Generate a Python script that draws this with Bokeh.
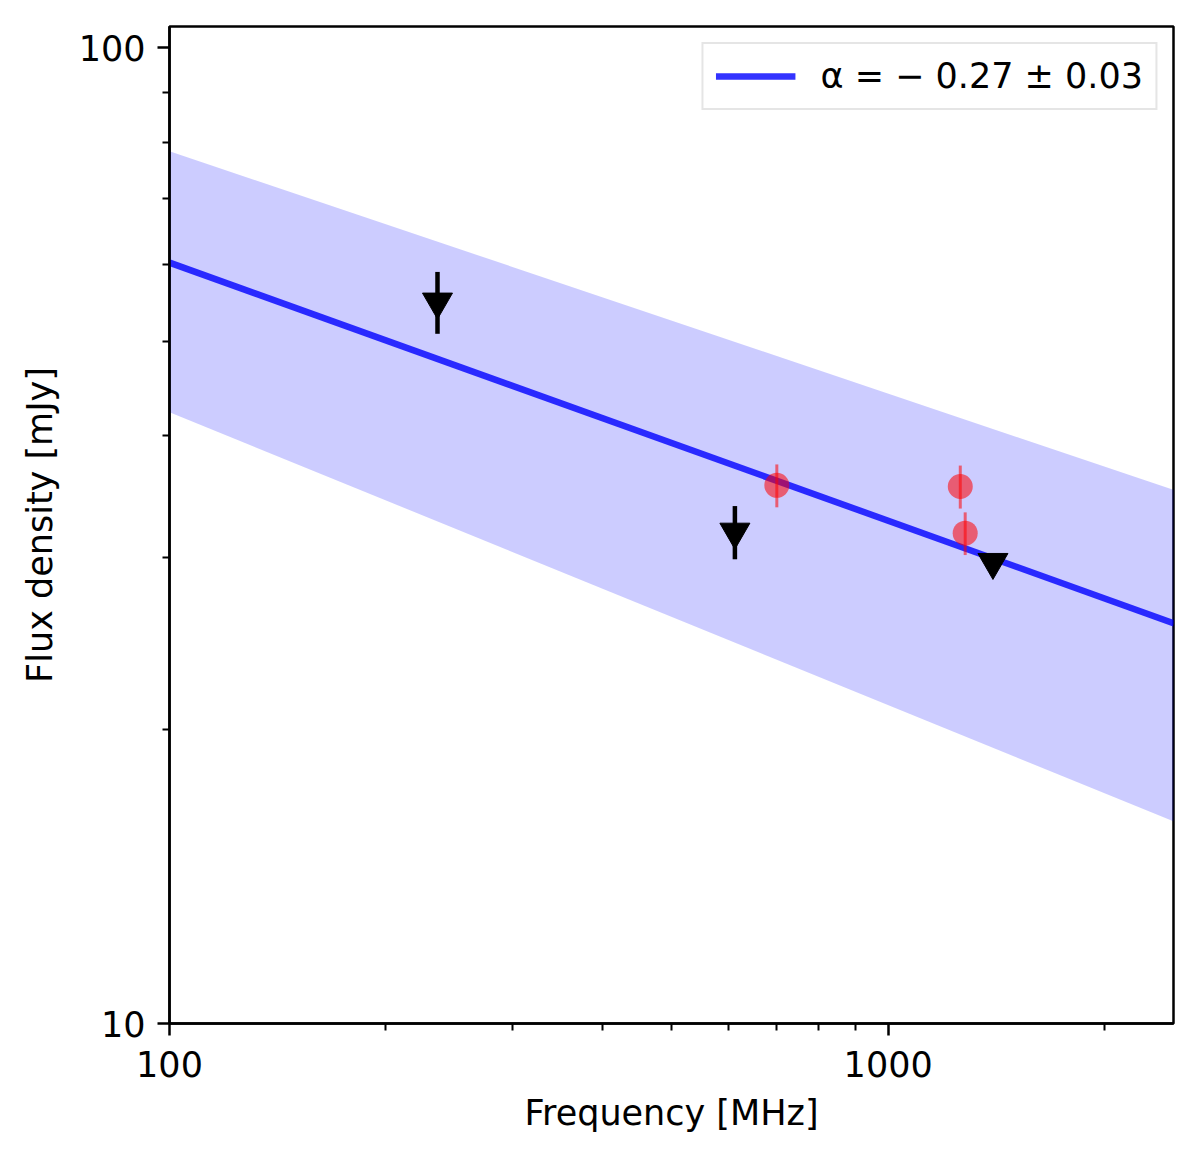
import numpy as np
from bokeh.plotting import figure
from bokeh.models import (Range1d, FixedTicker, CustomJSTickFormatter, Legend, LegendItem,
                          ColumnDataSource)
from bokeh.embed import file_html
from bokeh.resources import INLINE

# ---- data ----
# upper limits (triangles) with error bars
lim_freq = [236, 612, 1399]
lim_flux = [54.9, 31.9, 29.7]
lim_err = [4.0, 2.0, 0.0]

# detections (red circles)
det_freq = [700, 1260, 1280]
det_flux = [35.6, 35.5, 31.8]
det_err = [1.8, 1.8, 1.6]

# power-law fit and its uncertainty band (end points, straight in log-log)
fit_freq = [100, 2500]
fit_flux = [60.2, 25.7]
band_upper = [78.3, 35.2]
band_lower = [42.3, 16.1]

legend_label = "α = − 0.27 ± 0.03"

x_major = [100, 1000]
x_minor = [200, 300, 400, 500, 600, 700, 800, 900, 2000]
y_major = [10, 100]
y_minor = [20, 30, 40, 50, 60, 70, 80, 90]

FONT = "DejaVu Sans"
FS = "35px"

p = figure(width=1184, height=1143, x_axis_type="log", y_axis_type="log",
           x_range=Range1d(100, 2495), y_range=Range1d(10, 105.1),
           output_backend="svg", toolbar_location=None,
           min_border_left=169, min_border_right=11, min_border_top=26, min_border_bottom=120)

p.xgrid.visible = False
p.ygrid.visible = False
p.outline_line_color = "black"
p.outline_line_width = 2.5
p.outline_line_alpha = 1.0

# band
band_src = ColumnDataSource(dict(x=fit_freq, y1=band_lower, y2=band_upper))
p.varea(x="x", y1="y1", y2="y2", source=band_src, fill_color="blue", fill_alpha=0.2)

# fit line
fit_r = p.line(fit_freq, fit_flux, line_color="blue", line_alpha=0.8, line_width=6.5)

# detections
det_lo = [f - e for f, e in zip(det_flux, det_err)]
det_hi = [f + e for f, e in zip(det_flux, det_err)]
p.segment(x0=det_freq, y0=det_lo, x1=det_freq, y1=det_hi, line_color="red",
          line_alpha=0.55, line_width=3)
p.scatter(det_freq, det_flux, marker="circle", size=25, fill_color="red",
          fill_alpha=0.55, line_color=None)

# upper limits
lim_lo = [f - e for f, e in zip(lim_flux, lim_err)]
lim_hi = [f + e for f, e in zip(lim_flux, lim_err)]
p.segment(x0=lim_freq, y0=lim_lo, x1=lim_freq, y1=lim_hi, line_color="black", line_width=4.5)
p.scatter(lim_freq, lim_flux, marker="inverted_triangle", size=30, fill_color="black",
          line_color="black")

# axes
for ax in (p.xaxis[0], p.yaxis[0]):
    ax.axis_line_width = 2.5
    ax.major_tick_line_width = 2.5
    ax.minor_tick_line_width = 2
    ax.major_tick_out = 12
    ax.major_tick_in = 0
    ax.minor_tick_out = 7
    ax.minor_tick_in = 0
    ax.major_label_text_font = FONT
    ax.major_label_text_font_size = FS
    ax.major_label_text_color = "black"
    ax.axis_label_text_font = FONT
    ax.axis_label_text_font_size = FS
    ax.axis_label_text_font_style = "normal"
    ax.axis_label_text_color = "black"
    ax.formatter = CustomJSTickFormatter(code="return tick.toFixed(0);")

p.xaxis.ticker = FixedTicker(ticks=x_major, minor_ticks=x_minor)
p.yaxis.ticker = FixedTicker(ticks=y_major, minor_ticks=y_minor)
p.xaxis.major_label_standoff = 15
p.yaxis.major_label_standoff = 12
p.xaxis.axis_label = "Frequency [MHz]"
p.yaxis.axis_label = "Flux density [mJy]"
p.xaxis.axis_label_standoff = 13
p.yaxis.axis_label_standoff = 16

legend = Legend(items=[LegendItem(label=legend_label, renderers=[fit_r])],
                location="top_right", margin=16, padding=12, spacing=0,
                glyph_width=80, glyph_height=40, label_standoff=25,
                label_text_font=FONT, label_text_font_size=FS,
                label_text_color="black",
                border_line_color="#cccccc", border_line_width=2.5,
                background_fill_alpha=0.8)
p.add_layout(legend)

open("out.html", "w").write(file_html(p, INLINE))
